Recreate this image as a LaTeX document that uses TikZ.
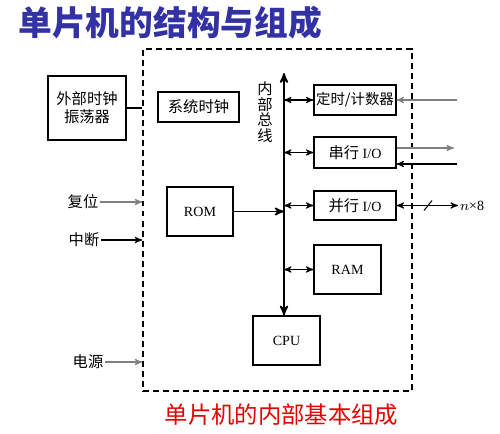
\documentclass[tikz,border=0pt]{standalone}
\usepackage{fontspec}
\setmainfont{Liberation Serif}
\newfontfamily\cjk{Noto Sans CJK SC}
\usetikzlibrary{arrows}
\usetikzlibrary{fit}
\newcommand\pxu{0.02cm}
\definecolor{titleblue}{RGB}{50,50,165}
\definecolor{captionred}{RGB}{230,0,0}
\tikzset{
    boxsize/.style 2 args={
        minimum width=#1*\pxu,
        minimum height=#2*\pxu
    },
    block/.style={
        draw,
        semithick,
        inner sep=1pt,
        align=center,
        font=\fontsize{8}{9}\selectfont
    },
    chipbox/.style={
        draw,
        line width=0.8pt,
        dash pattern=on 3.4pt off 2.3pt,
        inner sep=0pt
    },
    txt/.style={
        inner sep=1pt,
        font=\fontsize{8.7}{10}\selectfont\cjk
    },
    sig/.style={
        ->,>=stealth',
        semithick
    },
    dbl/.style={
        <->,>=stealth',
        semithick
    },
    bus/.style={
        <->,>=stealth',
        line width=1pt
    }
}

\begin{document}
\begin{tikzpicture}[x=0.02cm, y=-0.02cm]
    \useasboundingbox (0,0) rectangle (500,433);

    % titles
    \node[anchor=west, inner sep=0pt, text=titleblue, font=\fontsize{19.2}{21}\selectfont\cjk\bfseries] (title) at (18,23) {单片机的结构与组成};
    \node[inner sep=0pt, text=captionred, font=\fontsize{13.3}{15}\selectfont\cjk] (caption) at (281.5,415) {单片机的内部基本组成};

    % chip outline
    \node[chipbox, fit={(143,49) (412,391)}] (chip) {};

    % blocks
    \node[block, boxsize={78}{64}, font=\fontsize{8.7}{10.3}\selectfont\cjk] (osc) at (87,108) {外部时钟\\振荡器};
    \node[block, boxsize={81}{30}, font=\fontsize{8.7}{10}\selectfont\cjk] (sysclk) at (198.5,107) {系统时钟};
    \node[block, boxsize={82}{30}, font=\fontsize{8.2}{10}\selectfont\cjk] (timer) at (355,100) {定时/计数器};
    \node[block, boxsize={82}{31}] (serial) at (355,152.5) {{\cjk\fontsize{8.7}{10}\selectfont 串行} I/O};
    \node[block, boxsize={82}{29}] (parallel) at (355,205.5) {{\cjk\fontsize{8.7}{10}\selectfont 并行} I/O};
    \node[block, boxsize={67}{49}] (ram) at (347.5,269.5) {RAM};
    \node[block, boxsize={66}{49}] (rom) at (200,211.5) {ROM};
    \node[block, boxsize={67}{49}] (cpu) at (286.5,340.5) {CPU};

    % internal bus
    \coordinate (bustop) at (284,73);
    \draw[bus] (bustop) -- (bustop |- cpu.north);
    \node[txt, font=\fontsize{8.7}{8.9}\selectfont\cjk, align=center] (buslabel) at (265,112) {内\\部\\总\\线};

    \draw[dbl] (timer.west -| bustop) -- (timer.west);
    \draw[dbl] (serial.west -| bustop) -- (serial.west);
    \draw[dbl] (parallel.west -| bustop) -- (parallel.west);
    \draw[dbl] (ram.west -| bustop) -- (ram.west);
    \draw[sig, line width=0.9pt] (rom.east) -- (rom.east -| bustop);

    % outside connections
    \draw[semithick] (osc.east) -- (osc.east -| chip.west);

    \coordinate (inedge) at (457,0);
    \coordinate (serout) at (454,148);
    \coordinate (serin) at (457,164);
    \draw[sig, gray] (timer.east -| inedge) -- (timer.east);
    \draw[sig, gray] (serout -| serial.east) -- (serout);
    \draw[sig] (serin) -- (serin -| serial.east);

    \node[anchor=west, inner sep=1pt, font=\fontsize{8}{9}\selectfont] (width) at (458,205.5) {$n$×8};
    \draw[dbl] (parallel.east) -- (width.west);
    \coordinate (slash) at (428,205.5);
    \draw[semithick] (slash) ++(-4,5) -- ++(8,-10);

    \node[txt] (reset) at (83,202) {复位};
    \node[txt] (irq) at (84,240) {中断};
    \node[txt] (power) at (88,362) {电源};
    \draw[sig, gray] (reset) -- (reset -| chip.west);
    \draw[sig] (irq) -- (irq -| chip.west);
    \draw[sig, gray] (power) -- (power -| chip.west);
\end{tikzpicture}
\end{document}
